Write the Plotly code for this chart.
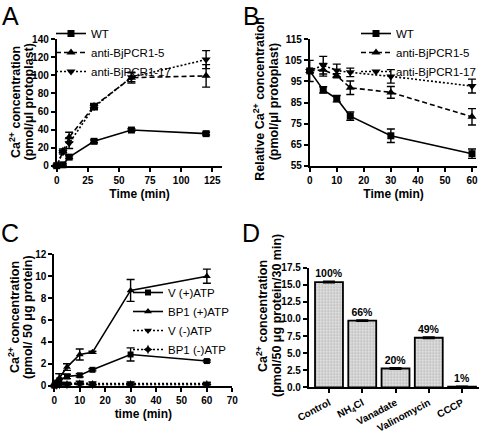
import plotly.graph_objects as go

W, H = 487, 434
FONT = "Liberation Sans, Arial, Helvetica, sans-serif"

# ---------------- Panel A data ----------------
time_a = [0, 5, 10, 30, 60, 120]
wt_a = [0, 1, 9.5, 27, 39.5, 35.5]
wt_a_err = [0.5, 1, 1.5, 1.5, 1.5, 1.5]
anti5_a = [0, 16.5, 31.5, 66, 97.5, 99.5]
anti5_a_err = [0.5, 2, 5.5, 3, 6, 12.5]
anti17_a = [0, 15, 25, 65, 98, 117.5]
anti17_a_err = [0.5, 2, 6, 3, 5, 10]

# ---------------- Panel B data ----------------
time_b = [0, 5, 10, 15, 30, 60]
wt_b = [100, 91, 86.8, 78.5, 69.2, 60.7]
wt_b_err = [1, 1.5, 1.5, 2, 3.2, 2.2]
anti5_b = [100, 100.5, 97.7, 92, 89.8, 78.2]
anti5_b_err = [1, 3, 1, 3.2, 2.8, 3.9]
anti17_b = [100, 102.7, 100.2, 99.3, 97.4, 92.8]
anti17_b_err = [5, 4.2, 3, 2, 3.2, 3.3]

# ---------------- Panel C data ----------------
time_c = [0, 1, 2, 5, 10, 15, 30, 60]
v_plus = [0, 0.2, 0.5, 0.85, 0.95, 1.45, 2.85, 2.25]
v_plus_err = [0, 0.2, 0.6, 0.2, 0.15, 0.1, 0.6, 0.1]
bp1_plus = [0, 0.3, 0.7, 1.7, 2.85, 3.05, 8.7, 10.0]
bp1_plus_err = [0, 0.2, 0.4, 0.3, 0.5, 0.1, 1.0, 0.65]
v_minus = [0, 0.1, 0.15, 0.2, 0.25, 0.2, 0.2, 0.2]
v_minus_err = [0, 0.05, 0.05, 0.1, 0.15, 0.15, 0.15, 0.1]
bp1_minus = [0, 0.05, 0.1, 0.1, 0.15, 0.1, 0.1, 0.1]
bp1_minus_err = [0, 0.05, 0.05, 0.05, 0.05, 0.05, 0.05, 0.05]

# ---------------- Panel D data ----------------
treatments = ["Control", "NH<sub>4</sub>Cl", "Vanadate", "Valinomycin", "CCCP"]
uptake_d = [15.4, 9.75, 2.75, 7.25, 0.1]
uptake_d_err = [0.12, 0.1, 0.1, 0.1, 0.05]
percent_d = ["100%", "66%", "20%", "49%", "1%"]


def xd(l, r):
    return [l / W, r / W]


def yd(t, b):
    return [1 - b / H, 1 - t / H]


fig = go.Figure()


def add_line(x, y, err, name, symbol, dash, xa, ya, legend, msize=7):
    fig.add_trace(go.Scatter(
        x=x, y=y, name=name, mode="lines+markers",
        line=dict(color="black", width=1.6, dash=dash),
        marker=dict(symbol=symbol, size=msize, color="black"),
        error_y=dict(type="data", array=err, visible=True, color="black",
                     thickness=1.4, width=4),
        xaxis=xa, yaxis=ya, legend=legend, cliponaxis=False,
    ))


SOLID = "solid"
DASH = "5px,3px"
DOT = "2px,2px"

# Panel D
fig.add_trace(go.Bar(
    x=treatments, y=uptake_d, text=percent_d, textposition="outside",
    textfont=dict(family=FONT, size=10.5, color="black", weight="bold"),
    marker=dict(color="#d4d4d4", line=dict(color="black", width=1.8),
                pattern=dict(shape=".", size=3, solidity=0.45,
                             fgcolor="#8c8c8c", bgcolor="#e6e6e6")),
    error_y=dict(type="data", array=uptake_d_err, visible=True, color="black",
                 thickness=1.4, width=6),
    xaxis="x4", yaxis="y4", showlegend=False, cliponaxis=False, legend="legend3",
))

# Panel A
add_line(time_a, wt_a, wt_a_err, "WT", "square", SOLID, "x", "y", "legend", 7)
add_line(time_a, anti5_a, anti5_a_err, "anti-BjPCR1-5", "triangle-up", DASH, "x", "y", "legend", 8)
add_line(time_a, anti17_a, anti17_a_err, "anti-BjPCR1-17", "triangle-down", DOT, "x", "y", "legend", 8)

# Panel B
add_line(time_b, wt_b, wt_b_err, "WT", "square", SOLID, "x2", "y2", "legend2", 7)
add_line(time_b, anti5_b, anti5_b_err, "anti-BjPCR1-5", "triangle-up", DASH, "x2", "y2", "legend2", 8)
add_line(time_b, anti17_b, anti17_b_err, "anti-BjPCR1-17", "triangle-down", DOT, "x2", "y2", "legend2", 8)

# Panel C
add_line(time_c, v_plus, v_plus_err, "V (+)ATP", "square", SOLID, "x3", "y3", "legend3", 6)
add_line(time_c, bp1_plus, bp1_plus_err, "BP1 (+)ATP", "triangle-up", SOLID, "x3", "y3", "legend3", 7)
add_line(time_c, v_minus, v_minus_err, "V (-)ATP", "triangle-down", DOT, "x3", "y3", "legend3", 7)
add_line(time_c, bp1_minus, bp1_minus_err, "BP1 (-)ATP", "star-diamond", DOT, "x3", "y3", "legend3", 7)

tickfont = dict(family=FONT, size=10, color="black", weight="bold")
titlefont = dict(family=FONT, size=12, color="black", weight="bold")

axis_common = dict(
    showgrid=False, zeroline=False, showline=True, linecolor="black",
    linewidth=1.8, ticks="outside", ticklen=4, tickwidth=1.6,
    tickcolor="black", tickfont=tickfont, automargin=False,
)

fig.update_layout(
    width=W, height=H, margin=dict(l=0, r=0, t=0, b=0, autoexpand=False),
    plot_bgcolor="white", paper_bgcolor="white",
    font=dict(family=FONT, color="black"),
    bargap=0.16,
    xaxis=dict(domain=xd(56.7, 222.3), range=[0, 133], tickvals=[0, 25, 50, 75, 100, 125],
               anchor="y", title=dict(text="Time (min)", font=titlefont, standoff=5), **axis_common),
    yaxis=dict(domain=yd(39.3, 165.7), range=[0, 140], tickvals=list(range(0, 141, 20)),
               anchor="x", **axis_common),
    xaxis2=dict(domain=xd(309.7, 477.4), range=[0, 62], tickvals=list(range(0, 61, 10)),
                anchor="y2", title=dict(text="Time (min)", font=titlefont, standoff=5), **axis_common),
    yaxis2=dict(domain=yd(39.3, 165.7), range=[55, 115], tickvals=list(range(55, 116, 10)),
                anchor="x2", **axis_common),
    xaxis3=dict(domain=xd(54.3, 232.3), range=[0, 70], tickvals=list(range(0, 71, 10)),
                anchor="y3", title=dict(text="time (min)", font=titlefont, standoff=5), **axis_common),
    yaxis3=dict(domain=yd(254.3, 385.7), range=[0, 12], tickvals=list(range(0, 13, 2)),
                anchor="x3", **axis_common),
    xaxis4=dict(domain=xd(308.7, 479), range=[-0.61, 4.51], tickangle=-28,
                anchor="y4", **axis_common),
    yaxis4=dict(domain=yd(267.7, 387.3), range=[0, 17.5], tickvals=[0, 2.5, 5, 7.5, 10, 12.5, 15, 17.5],
                tickformat=".1f", anchor="x4", **axis_common),
)

legend_common = dict(
    xanchor="left", bgcolor="rgba(0,0,0,0)", traceorder="normal",
    font=dict(family=FONT, size=11.5, color="black"),
)
fig.update_layout(
    legend=dict(x=51 / W, y=1 - 86 / H, yanchor="bottom", **legend_common),
    legend2=dict(x=356 / W, y=1 - 86 / H, yanchor="bottom", **legend_common),
    legend3=dict(x=128 / W, y=1 - 278 / H, yanchor="top", **legend_common),
)

# Panel letters and y-axis titles
def ann(text, px, py, size, bold=False, angle=0):
    fig.add_annotation(
        text=text, x=px / W, y=1 - py / H, xref="paper", yref="paper",
        xanchor="center", yanchor="middle", showarrow=False, textangle=angle,
        font=dict(family=FONT, size=size, color="black", weight="bold" if bold else "normal"),
    )

ann("A", 10, 16, 25)
ann("B", 251, 16, 25)
ann("C", 10, 233, 25)
ann("D", 251, 233, 25)

ann("Ca<sup>2+</sup> concentration", 15, 102, 12.5, True, -90)
ann("(pmol/μl protoplast)", 28.5, 102, 12.5, True, -90)
ann("Relative Ca<sup>2+</sup> concentration", 258.7, 99, 12.5, True, -90)
ann("(pmol/μl protoplast)", 274.3, 102, 12.5, True, -90)
ann("Ca<sup>2+</sup> concentration", 14, 317, 12.5, True, -90)
ann("(pmol/ 50 μg protein)", 28, 317, 12.5, True, -90)
ann("Ca<sup>2+</sup> concentration", 262, 316, 12.5, True, -90)
ann("(pmol/50 μg protein/30 min)", 277, 316, 12.5, True, -90)

fig.write_html(
    "out.html",
    config={"displayModeBar": False},
    post_script="document.body.style.margin='0';document.body.style.padding='0';"
                "document.body.style.overflow='hidden';",
)
